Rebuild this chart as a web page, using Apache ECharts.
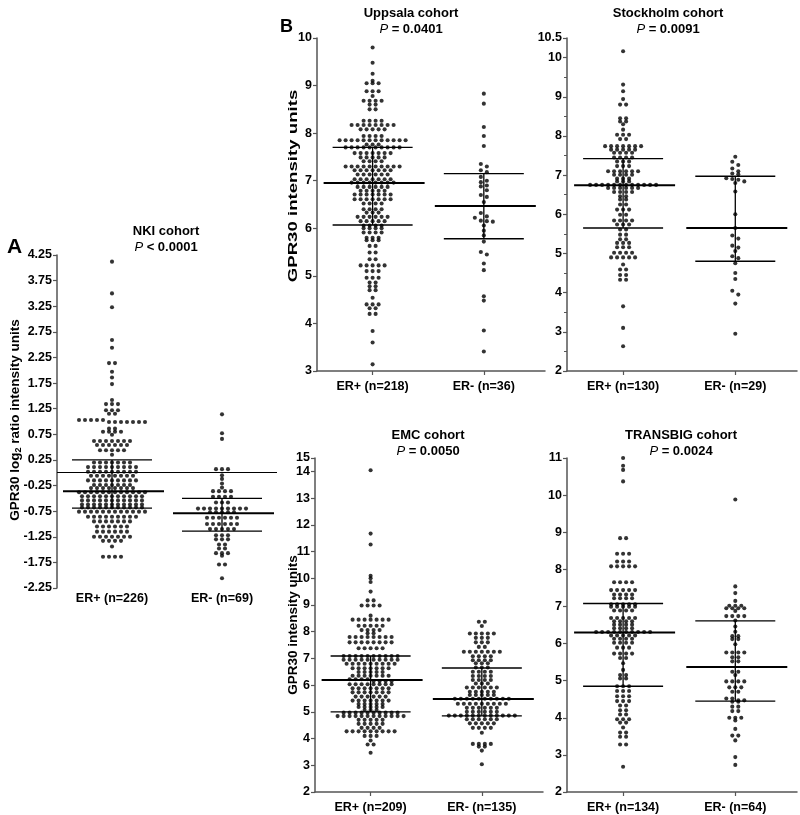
<!DOCTYPE html>
<html><head><meta charset="utf-8">
<script src="https://cdn.jsdelivr.net/npm/echarts@6/dist/echarts.min.js"></script>
<style>html,body{margin:0;padding:0;background:#fff}#c{width:800px;height:815px}</style>
</head><body><div id="c"></div>
<script>
// ---------------- DATA ([value, count] = dots in a row) ----------------
const nkiLabels = ['ER+ (n=226)', 'ER- (n=69)'];
const nkiTicks = [-2.25, -1.75, -1.25, -0.75, -0.25, 0.25, 0.75, 1.25, 1.75, 2.25, 2.75, 3.25, 3.75, 4.25];
const nkiErPos = [[4.12,1],[3.50,1],[3.23,1],[2.59,1],[2.44,1],[2.14,2],[1.97,1],[1.86,1],[1.73,1],[1.42,1],
  [1.34,3],[1.22,3],[1.15,2],[1.03,5],[0.99,7],[0.86,2],[0.80,4],[0.74,1],[0.62,7],[0.54,6],[0.44,5],[0.35,1],
  [0.20,7],[0.11,9],[0.02,9],[-0.06,8],[-0.15,9],[-0.24,7],[-0.30,8],
  [-0.38,12],[-0.46,11],[-0.54,11],[-0.62,11],[-0.68,11],
  [-0.76,12],[-0.86,9],[-0.95,7],[-1.05,6],[-1.15,6],[-1.25,7],[-1.33,4],[-1.44,1],[-1.64,4]];
const nkiErNeg = [[1.14,1],[0.77,1],[0.66,1],[0.07,3],[-0.05,1],[-0.12,1],[-0.21,1],[-0.29,1],[-0.36,4],[-0.47,4],
  [-0.58,3],[-0.70,9],[-0.77,5],[-0.88,6],[-1.0,6],[-1.1,5],[-1.22,3],[-1.30,3],[-1.40,2],[-1.48,2],[-1.57,3],
  [-1.62,1],[-1.79,2],[-2.06,1]];
const nkiMedian = [-0.36, -0.79];
const nkiQ1 = [-0.69, -1.14];
const nkiQ3 = [0.25, -0.50];

const uppsalaLabels = ['ER+ (n=218)', 'ER- (n=36)'];
const uppsalaErPos = [[9.80,1],[9.48,1],[9.25,1],[9.1,1],[9.05,3],[8.88,3],[8.78,1],[8.68,4],[8.6,2],[8.5,2],
  [8.26,4],[8.17,8],[8.08,5],[7.94,4],[7.85,12],[7.76,3],
  [7.70,10],[7.58,7],[7.49,5],[7.41,4],[7.30,10],[7.22,7],[7.13,6],[7.03,7],
  [6.96,8],[6.87,6],[6.79,5],[6.71,7],[6.61,7],[6.52,4],[6.40,4],[6.33,3],[6.24,6],[6.15,5],
  [6.06,4],[6.0,4],[5.91,4],[5.80,3],[5.75,3],[5.63,2],[5.49,2],[5.35,2],[5.22,5],[5.1,3],[4.96,3],[4.86,2],
  [4.78,2],[4.70,2],[4.54,1],[4.4,3],[4.32,2],[4.2,2],[3.84,1],[3.6,1],[3.14,1]];
const uppsalaErNeg = [8.83,8.62,8.13,7.94,7.73,7.35,7.30,7.22,7.18,7.08,7.0,6.97,6.9,6.88,6.8,6.7,6.66,6.55,
  6.32,6.25,6.22,6.16,6.14,6.15,6.06,5.95,5.85,5.72,5.5,5.45,5.26,5.12,4.57,4.48,3.85,3.41];
const uppsalaMedian = [6.95, 6.47];
const uppsalaQ1 = [6.07, 5.78];
const uppsalaQ3 = [7.70, 7.15];

const stockholmLabels = ['ER+ (n=130)', 'ER- (n=29)'];
const stockholmErPos = [[10.16,1],[9.31,1],[9.14,1],[8.94,1],[8.80,2],[8.45,2],[8.37,2],[8.3,1],[8.16,1],[8.03,3],
  [7.92,2],[7.74,7],[7.65,5],[7.57,4],
  [7.45,4],[7.35,3],[7.23,3],[7.1,6],[7.01,4],[6.91,3],[6.84,3],[6.75,12],
  [6.67,6],[6.57,4],[6.46,2],[6.38,2],[6.25,2],[6.12,3],[5.99,2],[5.84,4],[5.74,3],
  [5.61,2],[5.48,2],[5.36,2],[5.27,3],[5.16,3],[5.02,4],[4.9,5],[4.72,1],[4.59,2],[4.45,2],[4.33,2],
  [3.65,1],[3.10,1],[2.63,1]];
const stockholmErNeg = [7.47,7.34,7.26,7.17,7.10,7.04,7.02,6.92,6.90,6.88,6.84,6.80,6.58,6.0,5.65,5.46,5.38,
  5.2,5.15,5.06,4.93,4.88,4.75,4.5,4.35,4.05,3.95,3.72,2.95];
const stockholmMedian = [6.74, 5.65];
const stockholmQ1 = [5.65, 4.80];
const stockholmQ3 = [7.42, 6.97];

const emcLabels = ['ER+ (n=209)', 'ER- (n=135)'];
const emcErPos = [[14.04,1],[11.67,1],[11.26,1],[10.09,1],[10.0,1],[9.86,1],[9.5,1],[9.17,2],[8.98,4],[8.6,1],
  [8.45,7],[8.22,5],[8.06,4],[7.94,2],[7.8,8],[7.6,8],[7.38,5],
  [7.09,10],[6.95,10],[6.8,9],[6.63,7],[6.49,5],[6.35,7],[6.22,4],
  [6.15,4],[6.03,8],[5.88,7],[5.73,7],[5.57,6],[5.42,7],[5.29,5],[5.18,5],[5.07,3],
  [4.97,10],[4.84,12],[4.70,5],[4.55,5],[4.40,4],[4.27,9],[4.1,3],[3.93,1],[3.78,2],[3.47,1]];
const emcErNeg = [[8.37,2],[8.21,1],[7.93,5],[7.77,3],[7.6,3],[7.43,2],[7.25,7],[7.08,4],[6.93,4],[6.82,3],
  [6.66,3],[6.5,4],[6.34,4],[6.19,4],[6.06,3],[5.91,6],[5.75,5],[5.63,5],
  [5.49,10],[5.3,9],[5.15,6],[5.0,6],
  [4.86,12],[4.72,6],[4.57,5],[4.4,4],[4.22,1],[3.8,4],[3.7,2],[3.55,1],[3.04,1]];
const emcMedian = [6.19, 5.48];
const emcQ1 = [5.00, 4.85];
const emcQ3 = [7.09, 6.64];

const transbigLabels = ['ER+ (n=134)', 'ER- (n=64)'];
const transbigErPos = [[11.0,1],[10.79,1],[10.68,1],[10.37,1],[8.84,2],[8.42,3],[8.21,3],[8.08,5],[7.65,4],[7.44,5],
  [7.32,4],[7.22,4],
  [7.06,5],[6.99,5],[6.89,4],[6.69,5],[6.6,4],[6.51,4],[6.41,4],[6.31,10],
  [6.22,5],[6.13,4],[6.02,4],[5.89,3],[5.73,4],[5.61,2],[5.47,1],[5.29,1],[5.15,2],[5.06,2],
  [4.85,3],[4.72,3],[4.58,3],[4.45,3],[4.33,2],[4.2,2],[4.09,2],[3.96,3],[3.87,2],[3.74,1],[3.6,2],[3.49,2],
  [3.28,2],[2.68,1]];
const transbigErNeg = [[9.88,1],[7.54,1],[7.36,1],[7.15,1],[7.02,3],[6.95,4],[6.88,1],[6.74,4],
  [6.62,1],[6.46,1],[6.32,1],[6.2,2],[6.12,2],[5.98,1],[5.76,4],[5.63,2],[5.52,2],
  [5.24,2],[5.15,1],[4.98,4],[4.82,3],[4.7,2],[4.52,2],[4.47,2],
  [4.43,2],[4.3,2],[4.18,2],[4.0,3],[3.93,1],[3.7,1],[3.52,2],[3.39,1],[2.94,1],[2.73,1]];
const transbigMedian = [6.30, 5.37];
const transbigQ1 = [4.85, 4.45];
const transbigQ3 = [7.08, 6.61];

// ---------------- LAYOUT ----------------
const FONT = '"Liberation Sans", Arial, Helvetica, sans-serif';
const DOT = 4.1, SPACING = 6.0;
const AXIS_COLOR = '#555';

const panels = [
  {left:57, top:255, width:220, height:333, xMax:2.5, yMin:-2.25, yMax:4.25, ticks:nkiTicks,
   labels:nkiLabels, pos:nkiErPos, neg:nkiErNeg, med:nkiMedian, q1:nkiQ1, q3:nkiQ3, zeroLine:true},
  {left:317, top:38, width:228, height:333, xMax:2.55, yMin:3, yMax:10, interval:1,
   labels:uppsalaLabels, pos:uppsalaErPos, neg:uppsalaErNeg, med:uppsalaMedian, q1:uppsalaQ1, q3:uppsalaQ3},
  {left:567, top:38, width:230, height:333, xMax:2.55, yMin:2, yMax:10.5, interval:1, minor:true,
   labels:stockholmLabels, pos:stockholmErPos, neg:stockholmErNeg, med:stockholmMedian, q1:stockholmQ1, q3:stockholmQ3},
  {left:315, top:458, width:228, height:334, xMax:2.55, yMin:2, yMax:14.5, interval:1, topLabel:'15',
   labels:emcLabels, pos:emcErPos, neg:emcErNeg, med:emcMedian, q1:emcQ1, q3:emcQ3},
  {left:567, top:458, width:230, height:334, xMax:2.55, yMin:2, yMax:11, interval:1,
   labels:transbigLabels, pos:transbigErPos, neg:transbigErNeg, med:transbigMedian, q1:transbigQ1, q3:transbigQ3}
];

function expand(list) {
  const out = [];
  list.forEach(e => {
    if (Array.isArray(e)) { for (let k = 0; k < e[1]; k++) out.push(e[0]); }
    else out.push(e);
  });
  return out;
}

// beeswarm layout: bin dots into rows in pixel space, spread each row symmetrically
function swarm(list, cx, yScale, xScale) {
  const isPlain = list.every(e => !Array.isArray(e));
  const bin = isPlain ? 4.0 : 2.3;
  const v = expand(list).sort((a, b) => b - a);
  const rows = []; let cur = null;
  v.forEach(val => {
    if (cur && (cur.start - val) * yScale < bin) cur.items.push(val);
    else { cur = {start: val, items: [val]}; rows.push(cur); }
  });
  const pts = [];
  rows.forEach(r => {
    const n = r.items.length;
    r.items.forEach((val, i) => pts.push([cx + (i - (n - 1) / 2) * SPACING / xScale, val]));
  });
  return pts;
}

const grid = [], xAxis = [], yAxis = [], series = [];
panels.forEach((p, i) => {
  grid.push({left: p.left, top: p.top, width: p.width, height: p.height, outerBoundsMode: 'none', containLabel: false});
  const xScale = p.width / (p.xMax - 0.5);
  const yScale = p.height / (p.yMax - p.yMin);
  xAxis.push({
    type: 'value', gridIndex: i, min: 0.5, max: p.xMax, interval: 1,
    splitLine: {show: false},
    axisLine: {show: !p.zeroLine, onZero: false, lineStyle: {color: AXIS_COLOR, width: 1.5}},
    axisTick: {show: !p.zeroLine, customValues: [1, 2], length: 4, lineStyle: {color: AXIS_COLOR, width: 1.2}},
    axisLabel: {customValues: [1, 2], margin: p.zeroLine ? 4 : 9, color: '#000', fontFamily: FONT, fontWeight: 'bold', fontSize: 12.5,
      formatter: v => (Math.abs(v - 1) < 1e-6 ? p.labels[0] : (Math.abs(v - 2) < 1e-6 ? p.labels[1] : ''))}
  });
  const y = {
    type: 'value', gridIndex: i, min: p.yMin, max: p.yMax,
    splitLine: {show: false},
    axisLine: {show: true, lineStyle: {color: AXIS_COLOR, width: 1.5}},
    axisTick: {show: true, length: 4, lineStyle: {color: AXIS_COLOR, width: 1.2}},
    minorTick: {show: !!p.minor, splitNumber: 2, length: 3, lineStyle: {color: AXIS_COLOR, width: 1}},
    axisLabel: {margin: 5, color: '#000', fontFamily: FONT, fontWeight: 'bold', fontSize: 12.5,
      showMaxLabel: true, showMinLabel: true,
      formatter: v => {
        if (p.topLabel && Math.abs(v - p.yMax) < 1e-6) return p.topLabel;
        if (p.ticks) return v.toFixed(2);
        return String(+v.toFixed(2));
      }}
  };
  if (p.ticks) {
    y.axisTick.customValues = p.ticks;
    y.axisLabel.customValues = p.ticks;
  } else {
    y.interval = p.interval;
  }
  yAxis.push(y);
  const dotStyle = {color: '#000'};
  const posSeries = {type: 'scatter', xAxisIndex: i, yAxisIndex: i, symbolSize: DOT, itemStyle: dotStyle,
    data: swarm(p.pos, 1, yScale, xScale), silent: true, z: 3};
  if (p.zeroLine) {
    posSeries.markLine = {silent: true, symbol: 'none', label: {show: false},
      lineStyle: {color: '#000', width: 1, type: 'solid'}, data: [{yAxis: 0}]};
  }
  series.push(posSeries);
  series.push({type: 'scatter', xAxisIndex: i, yAxisIndex: i, symbolSize: DOT, itemStyle: dotStyle,
    data: swarm(p.neg, 2, yScale, xScale), silent: true, z: 3});
  series.push({
    type: 'custom', xAxisIndex: i, yAxisIndex: i, silent: true, z: 4, clip: false,
    data: [[1, p.med[0], p.q1[0], p.q3[0]], [2, p.med[1], p.q1[1], p.q3[1]]],
    encode: {x: 0, y: 1},
    renderItem: (params, api) => {
      const x = api.value(0);
      const pm = api.coord([x, api.value(1)]);
      const p1 = api.coord([x, api.value(2)]);
      const p3 = api.coord([x, api.value(3)]);
      const MWL = 49, MWR = 52, QW = 40;
      return {type: 'group', children: [
        {type: 'line', shape: {x1: pm[0] - MWL, y1: pm[1], x2: pm[0] + MWR, y2: pm[1]}, style: {stroke: '#000', lineWidth: 2}},
        {type: 'line', shape: {x1: p1[0] - QW, y1: p1[1], x2: p1[0] + QW, y2: p1[1]}, style: {stroke: '#000', lineWidth: 1.4}},
        {type: 'line', shape: {x1: p3[0] - QW, y1: p3[1], x2: p3[0] + QW, y2: p3[1]}, style: {stroke: '#000', lineWidth: 1.4}},
        {type: 'line', shape: {x1: p1[0], y1: p1[1], x2: p3[0], y2: p3[1]}, style: {stroke: '#000', lineWidth: 1.3}}
      ]};
    }
  });
});

const titleRich = {
  t: {fontFamily: FONT, fontWeight: 'bold', fontSize: 13, fill: '#000'},
  i: {fontFamily: FONT, fontStyle: 'italic', fontSize: 13, fill: '#000'}
};
function titleText(x, y, name, pText) {
  return [
    {type: 'text', x: x, y: y, style: {text: name, font: 'bold 13px ' + FONT, fill: '#000', align: 'center', verticalAlign: 'middle'}},
    {type: 'text', x: x, y: y + 16, style: {text: '{i|P}{t| ' + pText + '}', rich: titleRich, align: 'center', verticalAlign: 'middle'}}
  ];
}
function yTitle(x, y, rich, text, stretch) {
  return {type: 'text', x: x, y: y, rotation: Math.PI / 2, scaleX: stretch || 1,
    style: {text: text, rich: rich, align: 'center', verticalAlign: 'middle'}};
}
const yRich = {
  b: {fontFamily: FONT, fontWeight: 'bold', fontSize: 13.5, fill: '#000'},
  s: {fontFamily: FONT, fontWeight: 'bold', fontSize: 9, fill: '#000', padding: [7, 0, 0, 0]}
};

const graphic = [
  {type: 'text', x: 7, y: 237, style: {text: 'A', font: 'bold 21px ' + FONT, fill: '#000', verticalAlign: 'alphabetic'}},
  {type: 'text', x: 280, y: 18, style: {text: 'B', font: 'bold 18px ' + FONT, fill: '#000', verticalAlign: 'alphabetic'}},
  ...titleText(166, 231, 'NKI cohort', '< 0.0001'),
  ...titleText(411, 13, 'Uppsala cohort', '= 0.0401'),
  ...titleText(668, 13, 'Stockholm cohort', '= 0.0091'),
  ...titleText(428, 435, 'EMC cohort', '= 0.0050'),
  ...titleText(681, 435, 'TRANSBIG cohort', '= 0.0024'),
  yTitle(15, 420, yRich, '{b|GPR30 log}{s|2}{b| ratio intensity units}'),
  yTitle(293, 186, yRich, '{b|GPR30 intensity units}', 1.38),
  yTitle(293, 625, yRich, '{b|GPR30 intensity units}')
];

const chart = echarts.init(document.getElementById('c'), null, {renderer: 'canvas'});
chart.setOption({animation: false, backgroundColor: '#fff', grid, xAxis, yAxis, series, graphic});
</script></body></html>
